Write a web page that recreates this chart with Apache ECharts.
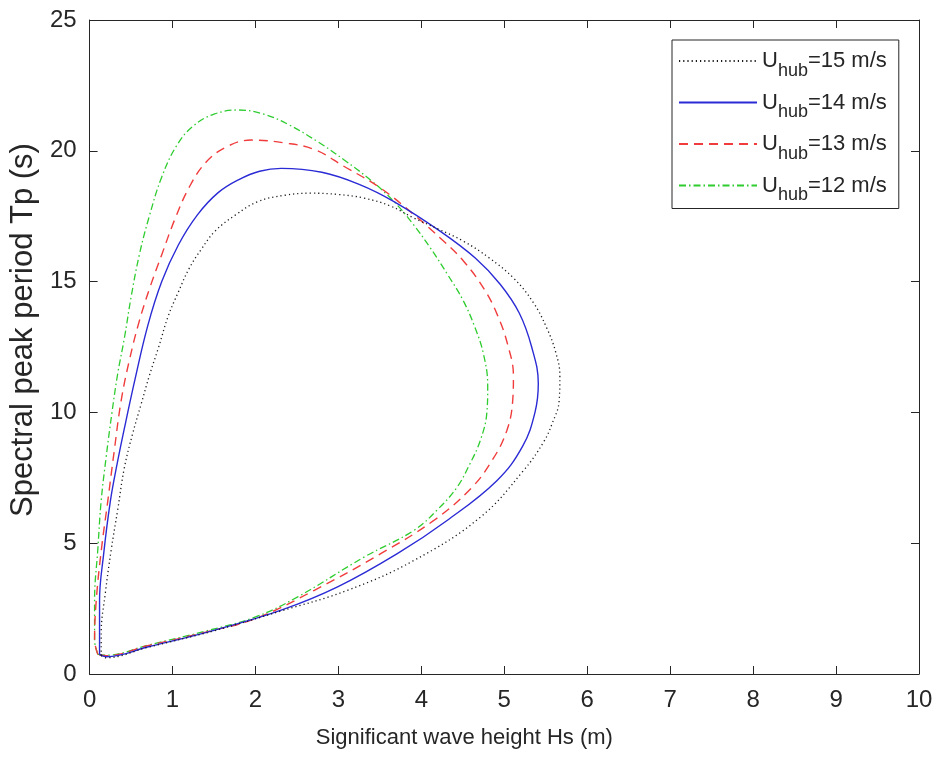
<!DOCTYPE html>
<html>
<head>
<meta charset="utf-8">
<script src="https://cdn.jsdelivr.net/npm/echarts@6/dist/echarts.min.js"></script>
<style>html,body{margin:0;padding:0;background:#fff}#c{width:940px;height:760px}</style>
</head>
<body>
<div id="c"></div>
<script>
// Axis ticks
const xTicks = [0,1,2,3,4,5,6,7,8,9,10];
const yTicks = [0,5,10,15,20,25];

// Legend names (wind speed at hub height)
const speeds = ['15','14','13','12'];

// U_hub = 15 m/s (dotted black)
const hs15 = [0.14,0.14,0.19,0.26,0.34,0.42,0.52,0.62,0.72,0.83,0.95,1.07,1.20,1.35,1.51,1.76,2.03,2.35,2.67,3.00,3.31,3.62,3.91,4.21,4.51,4.82,5.11,5.35,5.51,5.62,5.67,5.66,5.58,5.48,5.23,4.71,3.91,3.11,2.30,1.50,0.70,0.20,0.14];
const tp15 = [0.70,1.55,3.10,4.73,6.30,7.90,9.20,10.30,11.40,12.47,13.70,14.60,15.50,16.25,16.92,17.55,18.06,18.30,18.38,18.33,18.19,17.90,17.43,17.00,16.54,15.90,15.14,14.20,13.24,12.30,11.40,10.40,9.60,8.90,7.77,5.99,4.34,3.20,2.40,1.65,1.02,0.62,0.70];

// U_hub = 14 m/s (solid blue)
const hs14 = [0.12,0.12,0.17,0.25,0.33,0.42,0.55,0.70,0.87,1.07,1.30,1.55,1.80,2.05,2.31,2.80,3.25,3.67,4.23,4.65,4.95,5.18,5.33,5.41,5.37,5.22,4.91,4.31,3.71,2.99,2.31,1.51,0.71,0.20,0.12];
const tp14 = [0.75,2.80,4.60,6.60,8.00,9.40,11.30,13.30,15.00,16.40,17.55,18.40,18.90,19.22,19.33,19.18,18.72,18.06,16.92,15.90,14.90,13.80,12.50,11.10,10.00,8.70,7.39,5.87,4.60,3.33,2.44,1.68,1.04,0.66,0.75];

// U_hub = 13 m/s (dashed red)
const hs13 = [0.10,0.06,0.08,0.14,0.22,0.30,0.38,0.48,0.60,0.73,0.87,1.03,1.20,1.40,1.65,1.95,2.35,2.71,3.07,3.51,3.91,4.25,4.51,4.76,4.92,5.04,5.11,5.10,5.03,4.86,4.60,4.15,3.51,2.71,2.00,1.40,0.70,0.20,0.10];
const tp13 = [0.75,1.30,2.80,4.70,6.63,8.60,10.44,12.00,13.50,14.80,16.03,17.40,18.60,19.55,20.15,20.41,20.30,20.05,19.40,18.57,17.56,16.60,15.78,14.70,13.70,12.60,11.40,10.40,9.30,8.20,7.10,5.87,4.60,3.20,2.12,1.60,1.08,0.70,0.75];

// U_hub = 12 m/s (dash-dot green)
const hs12 = [0.10,0.06,0.06,0.10,0.14,0.20,0.27,0.34,0.42,0.50,0.60,0.72,0.87,1.05,1.25,1.50,1.79,2.10,2.40,2.75,3.07,3.40,3.67,3.90,4.11,4.32,4.50,4.64,4.75,4.80,4.79,4.71,4.58,4.43,4.20,3.91,3.31,2.51,2.00,1.40,0.70,0.20,0.10];
const tp12 = [0.75,1.30,2.80,4.80,6.63,8.30,10.00,11.50,12.85,14.40,16.03,17.50,19.00,20.20,20.95,21.40,21.56,21.40,21.00,20.35,19.65,18.85,18.06,17.20,16.28,15.25,14.30,13.30,12.22,11.00,10.00,8.92,8.00,7.14,6.30,5.49,4.47,2.95,2.18,1.64,1.10,0.72,0.75];

const xsAll = [hs15, hs14, hs13, hs12];
const ysAll = [tp15, tp14, tp13, tp12];
const colors = ['#1a1a1a', '#2b2bd6', '#f03c3c', '#2ecc2e'];
const dashes = [[1.2, 3], 'solid', [9, 6], [7, 3, 1.5, 3]];
const widths = [1.3, 1.4, 1.4, 1.3];

const names = speeds.map(s => 'Uhub=' + s + ' m/s');
const textColor = '#262626';
const FONT = 'Liberation Sans';

const series = names.map((n, i) => ({
  name: n,
  type: 'line',
  data: xsAll[i].map((x, j) => [x, ysAll[i][j]]),
  smooth: 0.4,
  symbol: 'none',
  lineStyle: { color: colors[i], width: widths[i], type: dashes[i] },
  itemStyle: { color: colors[i] },
  z: 5 - i
}));

const axisCommon = {
  axisLine: { show: true, onZero: false, lineStyle: { color: textColor, width: 1 } },
  axisTick: { show: true, inside: true, length: 8, lineStyle: { color: textColor } },
  splitLine: { show: false }
};

const chart = echarts.init(document.getElementById('c'), null, { renderer: 'canvas' });
chart.setOption({
  backgroundColor: '#ffffff',
  animation: false,
  textStyle: { fontFamily: FONT },
  grid: { left: 88, right: 21, top: 20, bottom: 86, containLabel: false },
  xAxis: [
    Object.assign({
      type: 'value', min: 0, max: 10, interval: 1, position: 'bottom',
      name: 'Significant wave height Hs (m)', nameLocation: 'middle', nameGap: 53,
      nameTextStyle: { color: textColor, fontSize: 22, fontFamily: FONT, padding: [0, 80, 0, 0] },
      axisLabel: { color: textColor, fontSize: 24, margin: 14, fontFamily: FONT,
        formatter: v => xTicks.includes(v) ? String(v) : '' }
    }, axisCommon),
    Object.assign({
      type: 'value', min: 0, max: 10, interval: 1, position: 'top',
      axisLabel: { show: false }
    }, axisCommon)
  ],
  yAxis: [
    Object.assign({
      type: 'value', min: 0, max: 25, interval: 5, position: 'left',
      name: 'Spectral peak period Tp (s)', nameLocation: 'middle', nameGap: 45,
      nameTextStyle: { color: textColor, fontSize: 31, fontFamily: FONT, padding: [0, 0, 0, 34] },
      axisLabel: { color: textColor, fontSize: 24, margin: 13, fontFamily: FONT,
        formatter: v => yTicks.includes(v) ? String(v) : '' }
    }, axisCommon),
    Object.assign({
      type: 'value', min: 0, max: 25, interval: 5, position: 'right',
      axisLabel: { show: false }
    }, axisCommon)
  ],
  legend: {
    orient: 'vertical',
    left: 672, top: 40,
    padding: [2, 12, 4, 6],
    itemGap: 3.5,
    itemWidth: 78,
    itemHeight: 14,
    backgroundColor: '#fff',
    borderColor: textColor,
    borderWidth: 1,
    borderRadius: 0,
    itemStyle: { opacity: 0, borderWidth: 0 },
    data: names,
    formatter: function (n) {
      const m = n.match(/^Uhub(=.*)$/);
      return '{a|U}{b|hub}{a|' + m[1] + '}';
    },
    textStyle: {
      color: textColor, fontFamily: FONT,
      rich: {
        a: { fontSize: 22, lineHeight: 38, verticalAlign: 'middle', color: textColor, fontFamily: FONT },
        b: { fontSize: 18, lineHeight: 38, verticalAlign: 'top', padding: [20, 0, 0, 0], color: textColor, fontFamily: FONT }
      }
    }
  },
  series: series
});
</script>
</body>
</html>
